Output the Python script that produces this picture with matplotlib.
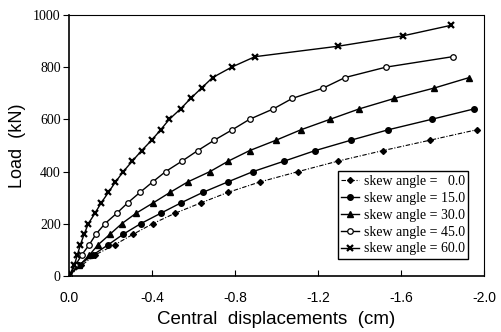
import numpy as np
import matplotlib
matplotlib.use('Agg')
import matplotlib.pyplot as plt
from matplotlib.ticker import FixedLocator

# Data (displacement in cm, load in kN)
load_00 = [0, 40, 80, 120, 160, 200, 240, 280, 320, 360, 400, 440, 480, 520, 560]
disp_00 = [0, -0.06, -0.125, -0.222, -0.31, -0.403, -0.511, -0.636, -0.766,
           -0.92, -1.106, -1.297, -1.512, -1.74, -1.965]

load_15 = [0, 40, 80, 120, 160, 200, 240, 280, 320, 360, 400, 440, 480, 520,
           560, 600, 640]
disp_15 = [0, -0.045, -0.115, -0.19, -0.262, -0.345, -0.442, -0.54, -0.645,
           -0.765, -0.888, -1.038, -1.186, -1.359, -1.539, -1.748, -1.953]

load_30 = [0, 40, 80, 120, 160, 200, 240, 280, 320, 360, 400, 440, 480, 520,
           560, 600, 640, 680, 720, 760]
disp_30 = [0, -0.05, -0.098, -0.141, -0.198, -0.254, -0.323, -0.406, -0.487,
           -0.572, -0.68, -0.768, -0.87, -0.998, -1.118, -1.258, -1.399,
           -1.568, -1.761, -1.929]

load_45 = [0, 40, 80, 120, 160, 200, 240, 280, 320, 360, 400, 440, 480, 520,
           560, 600, 640, 680, 720, 760, 800, 840]
disp_45 = [0, -0.03, -0.061, -0.098, -0.13, -0.173, -0.23, -0.283, -0.342,
           -0.403, -0.466, -0.545, -0.62, -0.70, -0.787, -0.87, -0.985,
           -1.076, -1.226, -1.33, -1.528, -1.849]

load_60 = [0, 40, 80, 120, 160, 200, 240, 280, 320, 360, 400, 440, 480, 520,
           560, 600, 640, 680, 720, 760, 800, 840, 880, 920, 960]
disp_60 = [0, -0.025, -0.04, -0.055, -0.073, -0.093, -0.125, -0.155, -0.19,
           -0.224, -0.262, -0.305, -0.35, -0.398, -0.442, -0.483, -0.538,
           -0.586, -0.639, -0.692, -0.784, -0.896, -1.296, -1.61, -1.84]

labels = ['skew angle =   0.0', 'skew angle = 15.0', 'skew angle = 30.0',
          'skew angle = 45.0', 'skew angle = 60.0']
xticks = [0.0, -0.4, -0.8, -1.2, -1.6, -2.0]
yticks = [0, 200, 400, 600, 800, 1000]

serif = 'Liberation Serif'
sans = 'Liberation Sans'

fig = plt.figure(figsize=(5.02, 3.32), dpi=100)
ax = fig.add_axes([0.1375, 0.169, 0.8265, 0.786])

ax.plot(disp_00, load_00, color='k', lw=0.8, ls=(0, (4, 1.5, 1, 1.5)),
        marker='D', ms=3.0, label=labels[0])
ax.plot(disp_15, load_15, color='k', lw=1.0, marker='o', ms=4.0,
        label=labels[1])
ax.plot(disp_30, load_30, color='k', lw=1.0, marker='^', ms=4.0,
        label=labels[2])
ax.plot(disp_45, load_45, color='k', lw=1.0, marker='o', ms=4.0,
        mfc='white', mew=0.9, label=labels[3])
ax.plot(disp_60, load_60, color='k', lw=1.0, marker='x', ms=4.2, mew=1.6,
        label=labels[4])

ax.set_xlim(0, -2.0)
ax.set_ylim(0, 1000)
ax.xaxis.set_major_locator(FixedLocator(xticks))
ax.yaxis.set_major_locator(FixedLocator(yticks))
ax.set_xticklabels(['%.1f' % v for v in xticks], fontfamily=sans, fontsize=10)
ax.set_yticklabels([str(v) for v in yticks], fontfamily=serif, fontsize=10)
ax.tick_params(axis='x', direction='in', length=4, width=0.8, pad=11)
ax.tick_params(axis='y', direction='out', length=4, width=0.8, pad=2)

for s in ['left', 'bottom']:
    ax.spines[s].set_linewidth(1.2)
for s in ['top', 'right']:
    ax.spines[s].set_linewidth(0.8)
    ax.spines[s].set_linestyle((0, (1, 1)))

ax.set_xlabel('Central  displacements  (cm)', fontfamily=sans, fontsize=13.5,
              labelpad=4)
ax.set_ylabel('Load  (kN)', fontfamily=sans, fontsize=13, labelpad=5)

leg = ax.legend(loc='lower left', bbox_to_anchor=(0.648, 0.065, 0.313, 0.33),
                mode='expand', prop={'family': serif, 'size': 10},
                handlelength=1.3, handletextpad=0.3, borderpad=0.25,
                labelspacing=0.28, fancybox=False, framealpha=1,
                edgecolor='k', borderaxespad=0)
leg.get_frame().set_linewidth(1.0)

plt.savefig('out.png', dpi=100)
